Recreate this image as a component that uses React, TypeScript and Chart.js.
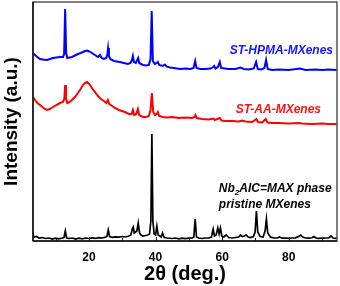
import React, { useEffect, useRef } from "react";
import { Chart, registerables } from "chart.js";

Chart.register(...registerables);

// ---- axis ----
const X_MIN = 3.2;
const X_MAX = 94.5;
const Y_MIN = 0;
const Y_MAX = 239;
const tickValues = [10, 20, 30, 40, 50, 60, 70, 80, 90];
const tickLabels = ["", "20", "", "40", "", "60", "", "80", ""];
const xTitle = "2θ (deg.)";
const yTitle = "Intensity (a.u.)";

// ---- pristine MXenes / Nb2AlC (black) ----
const pristineX = [3.2, 3.6, 4.2, 5, 6, 7, 8, 9, 10, 11, 12, 12.5, 12.9, 13.3, 14, 15, 16, 17, 18, 19, 20, 21, 22, 23, 24, 25, 25.4, 25.8, 26.2, 27, 28, 29, 30, 31, 32, 32.6, 33.0, 33.3, 33.6, 34.0, 34.4, 34.8, 35.2, 35.6, 36.2, 37.0, 37.6, 38.2, 38.6, 38.9, 39.2, 39.6, 40.0, 40.4, 40.8, 41.3, 41.7, 42.1, 42.6, 43.5, 45, 46, 47, 48, 49, 50, 51, 51.5, 51.9, 52.3, 53, 54, 55, 56, 56.8, 57.3, 57.7, 58.2, 58.7, 59.1, 59.5, 59.9, 60.5, 61.2, 62, 63, 64, 65, 65.5, 66, 66.6, 67.2, 67.8, 68.5, 69.4, 69.9, 70.3, 70.7, 71.4, 72.3, 72.9, 73.3, 73.7, 74.5, 75.5, 76.5, 77.2, 78, 79, 80, 81, 82, 83, 83.6, 84.2, 85, 86, 87, 87.6, 88.2, 89, 90, 91, 92, 92.7, 93.3, 94, 94.5];
const pristineY = [6, 4, 4.5, 3, 3.5, 2.5, 3, 2, 2.8, 2.2, 3, 3.5, 10, 3, 2.5, 3, 2, 2.8, 2.2, 3, 2.5, 3.2, 2.6, 3.4, 3, 3.8, 4.5, 11, 4.5, 3.6, 4.2, 3.8, 4.5, 4, 5, 6, 12, 14, 8, 9, 10, 18, 8, 6, 5, 5.5, 6, 7, 20, 107, 20, 7, 6, 15, 6, 5, 4, 8, 3.5, 3, 2.5, 3, 2.2, 2.8, 2.3, 2.8, 3, 4, 22, 4, 3, 2.5, 3, 3.2, 4, 12, 5, 6, 13, 7, 13, 5, 4, 6, 3.5, 3, 3.5, 4, 6, 4.5, 5, 6, 4, 3.5, 4.5, 9, 30, 9, 4.5, 4, 10, 22, 8, 4, 3.2, 3, 4, 2.8, 3, 2.6, 3, 3.2, 4.5, 6, 4, 3, 2.8, 3.2, 4.5, 3, 2.6, 2.8, 3, 3, 5, 3, 2.7, 3];

// ---- ST-AA-MXenes (red) ----
const aaX = [3.2, 3.8, 4.5, 5.3, 6, 6.8, 7.4, 8.2, 9.2, 10.2, 11.3, 12.2, 12.6, 12.85, 13.1, 13.5, 14.2, 14.9, 15.8, 16.7, 17.5, 18.2, 18.8, 19.4, 20.1, 20.9, 21.8, 22.7, 23.6, 24.5, 25.2, 25.7, 26.1, 27, 27.8, 29, 30.8, 32, 32.8, 33.2, 33.6, 34.2, 34.7, 35.1, 36.2, 37.2, 38.0, 38.5, 38.9, 39.3, 39.8, 40.4, 40.7, 41.1, 42.2, 43.5, 45, 47, 49, 51, 51.7, 52, 52.4, 54, 56, 57.4, 57.8, 58.5, 59.3, 59.8, 61, 63, 65, 66, 67, 69, 70.3, 70.8, 72, 73.1, 73.6, 75, 77, 80, 83, 84, 87, 90, 92, 94.5];
const aaY = [144, 141, 138, 136, 134, 132, 131, 132, 134, 136, 138, 139, 142, 156, 143, 138, 139, 141, 144, 148, 152, 156, 158, 159, 157, 153, 149, 145, 142, 140, 138, 141, 137, 135, 133, 131, 129, 127, 127, 131, 126, 127, 132, 126, 124, 124, 125, 131, 148, 129, 126, 127, 129, 125, 124, 123.5, 124, 123, 123.5, 123, 124, 126, 123, 122, 121.5, 122.5, 121, 122, 123, 120.5, 120, 120, 119.5, 120.5, 119.5, 119, 122, 119, 118.5, 122, 118.5, 118, 118, 117.5, 118, 117.5, 117, 117.5, 117, 117];

// ---- ST-HPMA-MXenes (blue) ----
const hpmaX = [3.2, 3.8, 4.5, 5.3, 6.2, 7.4, 8.3, 9.2, 10.2, 11.3, 12.2, 12.55, 12.85, 13.15, 13.5, 14.2, 14.9, 15.8, 16.7, 17.5, 18.2, 18.8, 19.4, 20.1, 20.9, 21.8, 22.7, 23.3, 23.8, 24.5, 25.2, 25.5, 25.75, 26.0, 26.4, 27.5, 29.3, 30.5, 31.7, 32.5, 32.9, 33.2, 33.5, 34.1, 34.5, 34.8, 35.1, 36.2, 37.2, 38.0, 38.5, 38.85, 39.2, 39.8, 40.4, 40.7, 41.1, 42.1, 42.8, 43.3, 44.3, 45.5, 47.3, 49, 50.5, 51.4, 51.9, 52.3, 53.5, 55, 56.5, 57.3, 57.6, 58, 58.7, 59.3, 59.7, 60.8, 62, 64, 65.5, 66.5, 68, 69.5, 70.2, 70.7, 71.8, 72.7, 73.2, 73.7, 75, 77, 80, 83.4, 85, 88, 90, 92, 94.5];
const hpmaY = [188, 186, 184, 182, 181.5, 181, 182, 183, 183.5, 184, 184, 187, 232, 188, 183, 183.5, 184, 185.5, 187, 188, 189, 190, 190.5, 189.5, 188, 186, 184, 186, 183, 182, 183, 186, 193, 185, 182, 180, 179, 178, 177, 178, 181, 185, 179, 178, 181, 183, 178, 176, 175.5, 176, 182, 230, 180, 177, 178, 179, 176, 175, 176.5, 174.5, 173.5, 173, 172, 172.5, 172, 173, 180, 173, 172, 172, 172.5, 174, 175, 172.5, 174, 179, 173, 172.5, 172, 172, 173.5, 172, 171.5, 172.5, 179, 172, 171.5, 173, 181, 172, 171, 171.5, 171, 172.5, 171, 171.5, 171, 171.5, 171];

// ---- annotation texts ----
const hpmaLabel = "ST-HPMA-MXenes";
const aaLabel = "ST-AA-MXenes";
const maxLabelParts = ["Nb", "2", "AlC=MAX phase"];
const pristineLabel = "pristine MXenes";

const FONT = "'Liberation Sans', Arial, sans-serif";

const toPoints = (xs: number[], ys: number[]) => xs.map((x, i) => ({ x, y: ys[i] }));

const decorPlugin = {
  id: "decor",
  afterDatasetsDraw(chart: any) {
    const { ctx, chartArea, scales } = chart;
    const { left, top, right, bottom } = chartArea;
    const xs = scales.x;
    const ys = scales.y;
    ctx.save();
    // frame
    ctx.strokeStyle = "#555";
    ctx.lineWidth = 1.5;
    ctx.strokeRect(left, top, right - left, bottom - top);
    ctx.strokeStyle = "#111";
    ctx.beginPath();
    ctx.moveTo(left, bottom);
    ctx.lineTo(right, bottom);
    ctx.moveTo(left, bottom);
    ctx.lineTo(left, top);
    ctx.stroke();
    // inward tick marks
    ctx.lineWidth = 1;
    ctx.beginPath();
    tickValues.forEach((v, i) => {
      const px = Math.round(xs.getPixelForValue(v)) + 0.5;
      ctx.moveTo(px, bottom);
      ctx.lineTo(px, bottom - (tickLabels[i] ? 4 : 3));
    });
    ctx.stroke();

    // annotations
    ctx.font = `italic bold 12px ${FONT}`;
    ctx.textBaseline = "alphabetic";
    ctx.textAlign = "right";
    ctx.fillStyle = "#1414ff";
    ctx.fillText(hpmaLabel, xs.getPixelForValue(93.3), ys.getPixelForValue(187));
    ctx.fillStyle = "#ff1010";
    ctx.fillText(aaLabel, xs.getPixelForValue(89.7), ys.getPixelForValue(128));

    ctx.fillStyle = "#000";
    ctx.textAlign = "left";
    let cx = xs.getPixelForValue(59.0);
    const by = ys.getPixelForValue(49);
    ctx.font = `italic bold 12px ${FONT}`;
    ctx.fillText(maxLabelParts[0], cx, by);
    cx += ctx.measureText(maxLabelParts[0]).width;
    ctx.font = `italic bold 8px ${FONT}`;
    ctx.fillText(maxLabelParts[1], cx, by + 3);
    cx += ctx.measureText(maxLabelParts[1]).width;
    ctx.font = `italic bold 12px ${FONT}`;
    ctx.fillText(maxLabelParts[2], cx, by);
    ctx.fillText(pristineLabel, xs.getPixelForValue(59.0), ys.getPixelForValue(33));
    ctx.restore();
  },
};

export default function App() {
  const ref = useRef<HTMLCanvasElement>(null);
  useEffect(() => {
    if (!ref.current) return;
    const chart = new Chart(ref.current, {
      type: "line",
      data: {
        datasets: [
          { label: "pristine", data: toPoints(pristineX, pristineY), borderColor: "#000", borderWidth: 1.7 },
          { label: "AA", data: toPoints(aaX, aaY), borderColor: "#ff0000", borderWidth: 2 },
          { label: "HPMA", data: toPoints(hpmaX, hpmaY), borderColor: "#0000ff", borderWidth: 2 },
        ],
      },
      options: {
        responsive: false,
        animation: false,
        parsing: false as any,
        elements: { point: { radius: 0 }, line: { tension: 0 } },
        layout: { padding: { left: 0, right: 3, top: 2, bottom: 0 } },
        plugins: { legend: { display: false }, tooltip: { enabled: false } },
        scales: {
          x: {
            type: "linear",
            min: X_MIN,
            max: X_MAX,
            grid: { display: false, drawTicks: false },
            border: { display: false },
            afterBuildTicks: (s: any) => {
              s.ticks = tickValues.map((v) => ({ value: v }));
            },
            afterFit: (s: any) => {
              s.height = 45;
            },
            ticks: {
              autoSkip: false,
              maxRotation: 0,
              padding: 9,
              color: "#000",
              font: { family: FONT, size: 12, weight: "bold" },
              callback: (v: any) => tickLabels[tickValues.indexOf(Number(v))] ?? "",
            },
            title: {
              display: true,
              text: xTitle,
              color: "#000",
              padding: { top: 0, bottom: 0 },
              font: { family: FONT, size: 20, weight: "bold" },
            },
          },
          y: {
            type: "linear",
            min: Y_MIN,
            max: Y_MAX,
            grid: { display: false, drawTicks: false },
            border: { display: false },
            ticks: { display: false },
            afterFit: (s: any) => {
              s.width = 33;
            },
            title: {
              display: true,
              text: yTitle,
              color: "#000",
              padding: { top: 0, bottom: 0 },
              font: { family: FONT, size: 19, weight: "bold" },
            },
          },
        },
      },
      plugins: [decorPlugin],
    });
    return () => chart.destroy();
  }, []);
  return (
    <div style={{ position: "fixed", left: 0, top: 0, width: 340, height: 286, background: "#fff" }}>
      <canvas ref={ref} width={340} height={286} />
    </div>
  );
}
